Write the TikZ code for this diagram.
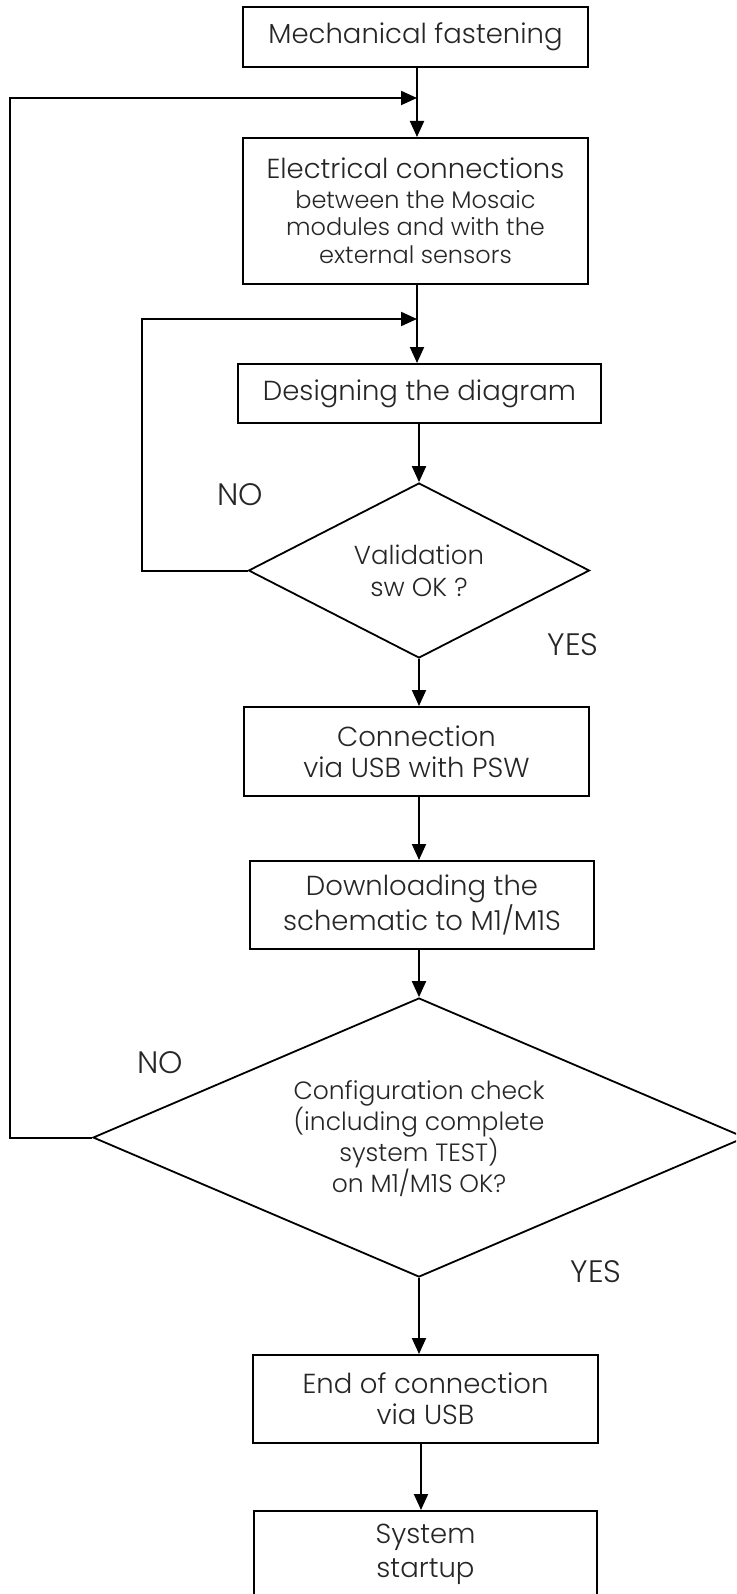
\documentclass[tikz,border=0pt]{standalone}
\usepackage{fontspec}
\setmainfont{Poppins Light}
\usetikzlibrary{arrows.meta,shapes.geometric}
\begin{document}
\begin{tikzpicture}[x=1pt,y=-1pt,
  every node/.style={text=black!85},
  stepbox/.style={draw=black, line width=2pt, inner sep=0pt, align=center, text=black!85},
  decision/.style={diamond, draw=black, line width=1.8pt, inner sep=0pt},
  dtext/.style={align=center, inner sep=0pt},
  big/.style={font=\fontsize{27.5}{31}\selectfont},
  lbl/.style={font=\fontsize{31}{34}\selectfont},
  arr/.style={line width=2pt, -{Triangle[length=16pt,width=14pt]}}]
\useasboundingbox (0,0) rectangle (736,1594);
\clip (0,0) rectangle (736,1594);

\node[stepbox, big, minimum width=345pt, minimum height=60pt] (mech) at (415.5,37) {Mechanical fastening};
\node[stepbox, font=\fontsize{24}{27.5}\selectfont, minimum width=345pt, minimum height=146pt] (elec) at (415.5,211)
  {{\fontsize{27.5}{31}\selectfont Electrical connections}\\[2pt]
   between the Mosaic\\
   modules and with the\\
   external sensors};
\node[stepbox, big, minimum width=363pt, minimum height=59pt] (design) at (419.5,393.5) {Designing the diagram};
\node[decision, minimum width=341pt, minimum height=175pt] (d1) at (419,570.5) {};
\node[dtext, font=\fontsize{26}{32}\selectfont] (d1t) at (d1.center) {Validation\\sw OK ?};
\node[stepbox, big, minimum width=345pt, minimum height=89pt] (conn) at (416.5,751.5) {Connection\\via USB with PSW};
\node[stepbox, big, minimum width=344pt, minimum height=88pt] (down) at (422,905) {Downloading the\\schematic to M1/M1S};
\node[decision, minimum width=652pt, minimum height=279pt] (d2) at (419,1137.5) {};
\node[dtext, font=\fontsize{25}{28}\selectfont] (d2t) at ([yshift=-1pt]d2.center)
  {Configuration check\\(including complete\\system TEST)\\on M1/M1S OK?};
\node[stepbox, big, minimum width=345pt, minimum height=88pt] (endc) at (425.5,1399) {End of connection\\via USB};
\node[stepbox, font=\fontsize{27.5}{34}\selectfont, minimum width=343pt, minimum height=86pt] (sys) at (425.5,1554) {System\\startup};

\node[lbl] (no1) at (240,495) {NO};
\node[lbl] (yes1) at (573,645) {YES};
\node[lbl] (no2) at (160,1063) {NO};
\node[lbl] (yes2) at (596,1272) {YES};

\coordinate (colA) at (417,0);
\coordinate (colB) at (419,0);
\coordinate (colD) at (421,0);
\coordinate (j1) at (417,98);
\coordinate (c1) at (10,1137.5);
\coordinate (j2) at (417,319);
\coordinate (c2) at (142,570.5);

\draw[arr] (mech.south -| colA) -- (elec.north -| colA);
\draw[arr] (d2.west) -- (c1) |- (j1);
\draw[arr] (elec.south -| colA) -- (design.north -| colA);
\draw[arr] (d1.west) -- (c2) |- (j2);
\draw[arr] (design.south -| d1.north) -- (d1.north);
\draw[arr] (d1.south) -- (d1.south |- conn.north);
\draw[arr] (conn.south -| colB) -- (down.north -| colB);
\draw[arr] (down.south -| d2.north) -- (d2.north);
\draw[arr] (d2.south) -- (d2.south |- endc.north);
\draw[arr] (endc.south -| colD) -- (sys.north -| colD);
\end{tikzpicture}
\end{document}
